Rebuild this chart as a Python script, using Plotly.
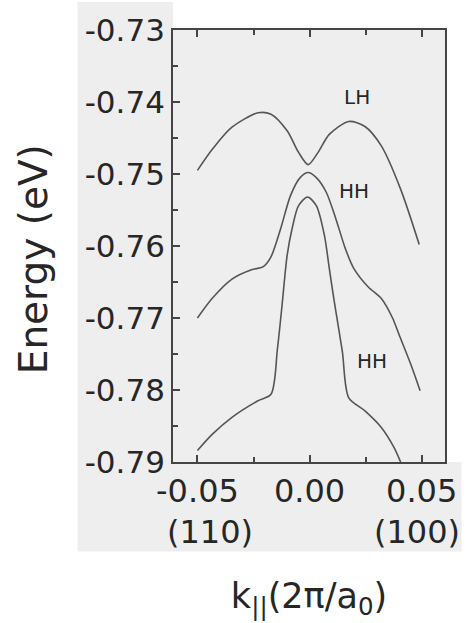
import plotly.graph_objects as go

# --- data ---
lh_k = [-0.0500, -0.0432, -0.0346, -0.0230, -0.0172, -0.0100, -0.0049, -0.0006,
        0.0038, 0.0088, 0.0175, 0.0247, 0.0320, 0.0406, 0.0489]
lh_e = [-0.7495, -0.7465, -0.7435, -0.7415, -0.7417, -0.7440, -0.7470, -0.7487,
        -0.7470, -0.7445, -0.7427, -0.7434, -0.7461, -0.7521, -0.7598]

hh1_k = [-0.0500, -0.0432, -0.0346, -0.0259, -0.0208, -0.0172, -0.0129, -0.0085,
         -0.0042, -0.0006, 0.0030, 0.0074, 0.0117, 0.0160, 0.0197, 0.0262,
         0.0320, 0.0370, 0.0399, 0.0457, 0.0493]
hh1_e = [-0.7700, -0.7672, -0.7646, -0.7633, -0.7629, -0.7615, -0.7576, -0.7530,
         -0.7505, -0.7498, -0.7505, -0.7525, -0.7562, -0.7604, -0.7631, -0.7657,
         -0.7673, -0.7700, -0.7723, -0.7769, -0.7801]

hh2_k = [-0.0500, -0.0432, -0.0346, -0.0230, -0.0172, -0.0143, -0.0121, -0.0114,
         -0.0100, -0.0078, -0.0049, -0.0009, 0.0030, 0.0066, 0.0088, 0.0110,
         0.0146, 0.0175, 0.0247, 0.0320, 0.0377, 0.0406]
hh2_e = [-0.7884, -0.7861, -0.7838, -0.7815, -0.7806, -0.7742, -0.7677, -0.7654,
         -0.7613, -0.7576, -0.7544, -0.7532, -0.7544, -0.7585, -0.7631, -0.7677,
         -0.7746, -0.7811, -0.7829, -0.7852, -0.7880, -0.7900]

y_tickvals = [-0.79, -0.78, -0.77, -0.76, -0.75, -0.74, -0.73]
y_ticktext = ["-0.79", "-0.78", "-0.77", "-0.76", "-0.75", "-0.74", "-0.73"]
x_tickvals = [-0.05, 0.00, 0.05]
x_ticktext = ["-0.05", "0.00", "0.05"]

dir_labels = ["(110)", "(100)"]
dir_pos = [-0.0445, 0.0480]

band_labels = ["LH", "HH", "HH"]
band_label_k = [0.0212, 0.0200, 0.0280]
band_label_e = [-0.7393, -0.7523, -0.7760]

y_title = "Energy (eV)"
x_title = "k<sub>||</sub>(2π/a<sub>0</sub>)"

LINE = "#555555"
TXT = "#262626"
GRAY = "#eeeeee"
FONT = "DejaVu Sans"

fig = go.Figure()
for kk, ee in [(lh_k, lh_e), (hh1_k, hh1_e), (hh2_k, hh2_e)]:
    fig.add_trace(go.Scatter(x=kk, y=ee, mode="lines",
                             line=dict(color=LINE, width=1.6, shape="spline", smoothing=0.8),
                             showlegend=False, hoverinfo="skip"))

for t, kx, ey in zip(band_labels, band_label_k, band_label_e):
    fig.add_annotation(x=kx, y=ey, text=t, showarrow=False,
                       font=dict(family=FONT, size=20, color=TXT))

for t, kx in zip(dir_labels, dir_pos):
    fig.add_annotation(x=kx, xref="x", y=-0.162, yref="paper", text=t, showarrow=False,
                       xanchor="center", yanchor="middle",
                       font=dict(family=FONT, size=32, color=TXT))

# y-axis title
fig.add_annotation(x=-0.51, xref="paper", y=0.47, yref="paper", text=y_title,
                   textangle=-90, showarrow=False, xanchor="center", yanchor="middle",
                   font=dict(family=FONT, size=39, color=TXT))

# scanned gray background regions
shapes = [
    dict(type="rect", xref="paper", yref="paper", x0=-0.351, x1=0.0, y0=-0.207, y1=1.065,
         fillcolor=GRAY, line_width=0, layer="below"),
    dict(type="rect", xref="paper", yref="paper", x0=0.0, x1=1.061, y0=-0.207, y1=0.0,
         fillcolor=GRAY, line_width=0, layer="below"),
]

fig.update_layout(
    width=469, height=623,
    margin=dict(l=173, r=17, t=27, b=161),
    paper_bgcolor="white", plot_bgcolor=GRAY,
    shapes=shapes,
    font=dict(family=FONT, color=TXT),
    xaxis=dict(range=[-0.0609, 0.0604], tickvals=x_tickvals, ticktext=x_ticktext,
               ticks="inside", ticklen=7, tickwidth=1.5, tickcolor="#444",
               minor=dict(tickvals=[-0.025, 0.025], ticks="inside", ticklen=5,
                          tickcolor="#444", tickwidth=1.5),
               showline=True, linecolor="#444", linewidth=1.8, mirror="allticks",
               showgrid=False, zeroline=False,
               tickfont=dict(family=FONT, size=32, color=TXT),
               title=dict(text=x_title,
                          font=dict(family=FONT, size=35, color=TXT), standoff=74)),
    yaxis=dict(range=[-0.79, -0.73], tickvals=y_tickvals, ticktext=y_ticktext,
               ticks="inside", ticklen=7, tickwidth=1.5, tickcolor="#444",
               minor=dict(dtick=0.005, ticks="inside", ticklen=5, tickcolor="#444",
                          tickwidth=1.5),
               showline=True, linecolor="#444", linewidth=1.8, mirror=True,
               showgrid=False, zeroline=False,
               tickfont=dict(family=FONT, size=31, color=TXT)),
)

fig.write_html("out.html")
